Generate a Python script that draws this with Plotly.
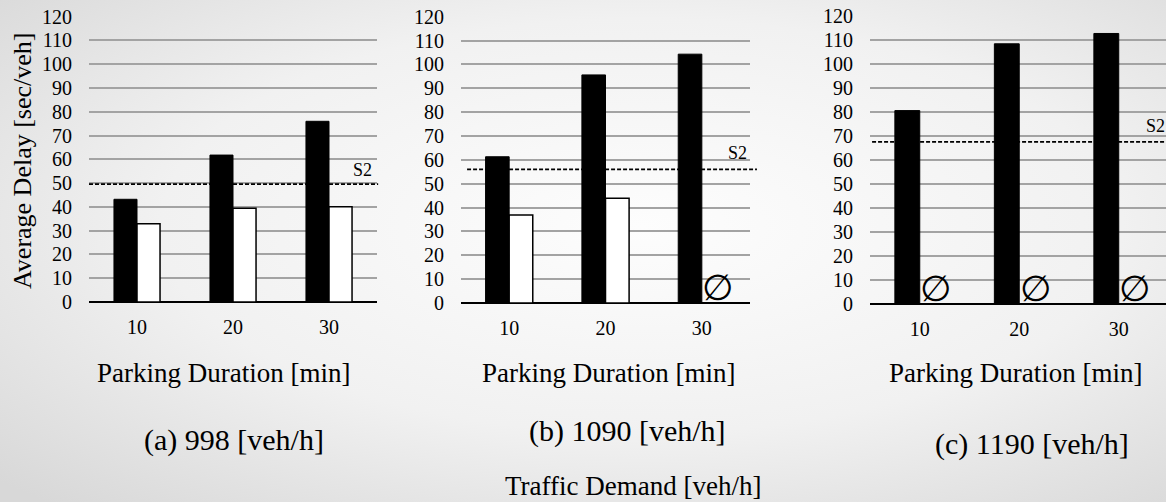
import base64
import plotly.graph_objects as go

# ---- data -------------------------------------------------------------
durations = ["10", "20", "30"]                     # parking duration [min]
panel_captions = ["(a) 998 [veh/h]", "(b) 1090 [veh/h]", "(c) 1190 [veh/h]"]

delay_dark_a = [43.2, 61.8, 76.0]
delay_light_a = [32.9, 39.4, 40.1]

delay_dark_b = [61.3, 95.6, 104.3]
delay_light_b = [36.9, 43.9, None]                 # None -> no result (∅)

delay_dark_c = [80.5, 108.3, 112.6]
delay_light_c = [None, None, None]

s2_level = [49.6, 56.0, 67.5]
s2_label = "S2"

y_ticks = list(range(0, 121, 10))

# ---- layout of the three panels ---------------------------------------
W, H = 1166, 502
panels = [
    dict(dark=delay_dark_a, light=delay_light_a, x=(89, 377), y=(302, 16.7),
         xr=[-0.5, 2.5], bw=0.24, dash=(0.0, 1.004), s2x=0.948, s2dy=2,
         title_x=223, cap=(234, 440)),
    dict(dark=delay_dark_b, light=delay_light_b, x=(461, 750), y=(303, 16.7),
         xr=[-0.5, 2.5], bw=0.245, dash=(0.021, 1.024), s2x=0.958, s2dy=4,
         title_x=609, cap=(627, 431)),
    dict(dark=delay_dark_c, light=delay_light_c, x=(870, 1166), y=(304, 15.7),
         xr=[-0.5, 2.475], bw=0.25, dash=(0.007, 1.0), s2x=0.963, s2dy=4,
         title_x=1015, cap=(1032, 444)),
]

FONT = "'Liberation Serif', 'Times New Roman', Times, serif"
pos = list(range(len(durations)))

fig = go.Figure()
shapes, annotations = [], []

for i, p in enumerate(panels):
    n = "" if i == 0 else str(i + 1)
    xa, ya = "x" + n, "y" + n
    w = p["bw"]

    fig.add_trace(go.Bar(
        x=pos, y=p["dark"], xaxis=xa, yaxis=ya,
        offset=-w, width=w,
        marker=dict(color="black", line=dict(color="black", width=1)),
        showlegend=False, hoverinfo="y",
    ))
    fig.add_trace(go.Bar(
        x=pos, y=[v if v is not None else 0 for v in p["light"]],
        xaxis=xa, yaxis=ya, offset=0, width=w,
        marker=dict(color="white",
                    line=dict(color=["black" if v is not None else "rgba(0,0,0,0)"
                                     for v in p["light"]], width=1.5)),
        showlegend=False, hoverinfo="y",
    ))

    # missing results marked with the empty-set sign
    for k, v in zip(pos, p["light"]):
        if v is None:
            annotations.append(dict(
                x=k, y=0, xref=xa, yref=ya, text="∅", showarrow=False,
                xanchor="center", yanchor="bottom", xshift=16, yshift=-7,
                font=dict(family="DejaVu Sans", size=36, color="black"),
            ))

    x0, x1 = p["x"][0] / W, p["x"][1] / W
    y0, y1 = 1 - p["y"][0] / H, 1 - p["y"][1] / H
    fig.update_layout(**{
        "xaxis" + n: dict(
            domain=[x0, min(x1, 1.0)], anchor=ya,
            range=p["xr"], tickvals=pos, ticktext=durations,
            showgrid=False, zeroline=False, showline=False,
            tickfont=dict(family=FONT, size=20, color="black"),
            ticks="", ticklabelstandoff=11, fixedrange=True, automargin=False,
        ),
        "yaxis" + n: dict(
            domain=[y0, y1], anchor=xa, range=[0, 120], tickvals=y_ticks,
            showgrid=True, gridcolor="#a3a3a3", gridwidth=1.6,
            zeroline=True, zerolinecolor="black", zerolinewidth=2.2,
            showline=False, ticks="", ticklabelstandoff=16,
            tickfont=dict(family=FONT, size=20, color="black"),
            fixedrange=True, automargin=False,
        ),
    })

    # S2 reference level
    shapes.append(dict(
        type="line", xref=xa + " domain", yref=ya,
        x0=p["dash"][0], x1=p["dash"][1], y0=s2_level[i], y1=s2_level[i],
        line=dict(color="black", width=1.6, dash="4px,2px"), layer="above",
    ))
    annotations.append(dict(
        x=p["s2x"], y=s2_level[i], xref=xa + " domain", yref=ya,
        text=s2_label, showarrow=False, xanchor="center", yanchor="bottom",
        yshift=p["s2dy"], font=dict(family=FONT, size=18, color="black"),
    ))

    # axis title and panel caption
    annotations.append(dict(
        x=p["title_x"] / W, y=1 - 373 / H, xref="paper", yref="paper",
        text="Parking Duration [min]", showarrow=False,
        xanchor="center", yanchor="middle",
        font=dict(family=FONT, size=27, color="black"),
    ))
    cx, cy = p["cap"]
    annotations.append(dict(
        x=cx / W, y=1 - cy / H, xref="paper", yref="paper",
        text=panel_captions[i], showarrow=False,
        xanchor="center", yanchor="middle",
        font=dict(family=FONT, size=30, color="black"),
    ))

annotations.append(dict(
    x=23 / W, y=1 - 161 / H, xref="paper", yref="paper",
    text="Average Delay [sec/veh]", textangle=-90, showarrow=False,
    xanchor="center", yanchor="middle",
    font=dict(family=FONT, size=26, color="black"),
))
annotations.append(dict(
    x=633 / W, y=1 - 486 / H, xref="paper", yref="paper",
    text="Traffic Demand [veh/h]", showarrow=False,
    xanchor="center", yanchor="middle",
    font=dict(family=FONT, size=27, color="black"),
))

# soft radial backdrop
svg = (
    '<svg xmlns="http://www.w3.org/2000/svg" width="1166" height="502" '
    'preserveAspectRatio="none">'
    '<defs><radialGradient id="g" cx="0.55" cy="0.45" r="0.75">'
    '<stop offset="0" stop-color="#fdfdfd"/>'
    '<stop offset="0.55" stop-color="#f1f1f1"/>'
    '<stop offset="1" stop-color="#d8d8d8"/>'
    '</radialGradient></defs>'
    '<rect width="1166" height="502" fill="url(#g)"/></svg>'
)
bg = "data:image/svg+xml;base64," + base64.b64encode(svg.encode()).decode()

fig.update_layout(
    width=W, height=H,
    margin=dict(l=0, r=0, t=0, b=0, pad=0),
    paper_bgcolor="#e6e6e6", plot_bgcolor="rgba(0,0,0,0)",
    barmode="overlay", showlegend=False,
    shapes=shapes, annotations=annotations,
    images=[dict(source=bg, xref="paper", yref="paper", x=0, y=1,
                 sizex=1, sizey=1, sizing="stretch", layer="below",
                 xanchor="left", yanchor="top")],
)

fig.write_html("out.html")
